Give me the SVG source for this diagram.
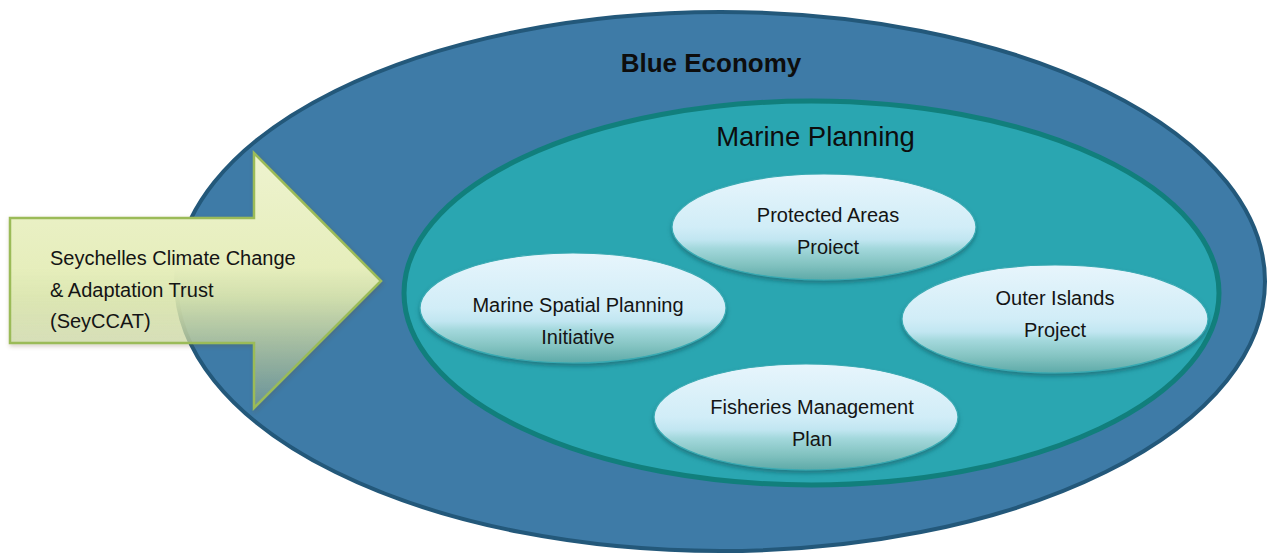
<svg xmlns="http://www.w3.org/2000/svg" width="1269" height="555" viewBox="0 0 1269 555">
  <defs>
    <!-- glossy light-blue fill for the project bubbles -->
    <linearGradient id="bubbleFill" x1="0" y1="0" x2="0" y2="1">
      <stop offset="0" stop-color="#e7f5fc"/>
      <stop offset="0.5" stop-color="#d1edf7"/>
      <stop offset="0.62" stop-color="#c1e6f1"/>
      <stop offset="0.7" stop-color="#a3d8dc"/>
      <stop offset="0.85" stop-color="#83c3c1"/>
      <stop offset="1" stop-color="#5eaaa8"/>
    </linearGradient>
    <!-- arrow fill fades out towards its lower edge -->
    <linearGradient id="arrowFill" gradientUnits="userSpaceOnUse" x1="0" y1="153" x2="0" y2="408">
      <stop offset="0" stop-color="#eef3cf" stop-opacity="1"/>
      <stop offset="0.45" stop-color="#e6eebc" stop-opacity="1"/>
      <stop offset="0.56" stop-color="#dde8b0" stop-opacity="0.92"/>
      <stop offset="0.75" stop-color="#cfdca6" stop-opacity="0.66"/>
      <stop offset="1" stop-color="#bccc96" stop-opacity="0.3"/>
    </linearGradient>
    <filter id="bubbleShadow" x="-10%" y="-20%" width="120%" height="150%">
      <feDropShadow dx="0" dy="3" stdDeviation="2.2" flood-color="#0a5560" flood-opacity="0.55"/>
    </filter>
    <filter id="arrowShadow" x="-5%" y="-5%" width="115%" height="120%">
      <feDropShadow dx="1" dy="2" stdDeviation="2" flood-color="#6b4a26" flood-opacity="0.3"/>
    </filter>
    <style>
      .label { font-family: "Liberation Sans", Arial, sans-serif; font-size: 20px; fill: #141414; }
      .mid { text-anchor: middle; }
      .bubble { fill: url(#bubbleFill); stroke: #39aab3; stroke-width: 1.2; filter: url(#bubbleShadow); }
      .title { font-family: "Liberation Sans", Arial, sans-serif; fill: #0d0d0d; text-anchor: middle; }
    </style>
  </defs>

  <!-- outermost ring -->
  <g id="blue-economy">
    <ellipse cx="720.5" cy="281.5" rx="544.5" ry="269.5" fill="#3e7ba7" stroke="#23587a" stroke-width="4"/>
    <text class="title" x="711" y="72" font-size="26" font-weight="bold">Blue Economy</text>
  </g>

  <!-- incoming arrow -->
  <g id="seyccat">
    <path d="M10,218 L254,218 L254,153 L381,281 L254,408 L254,343 L10,343 Z"
          fill="url(#arrowFill)" stroke="#9bbb59" stroke-width="2.5" stroke-linejoin="miter" filter="url(#arrowShadow)"/>
    <text class="label" x="50" y="265">Seychelles Climate Change</text>
    <text class="label" x="50" y="297">&amp; Adaptation Trust</text>
    <text class="label" x="50" y="328">(SeyCCAT)</text>
  </g>

  <!-- inner ring -->
  <g id="marine-planning">
    <ellipse cx="811.5" cy="293" rx="407.5" ry="192" fill="#2aa6b1" stroke="#117f7c" stroke-width="5"/>
    <text class="title" x="815.5" y="146" font-size="27.5">Marine Planning</text>
  </g>

  <g id="protected-areas">
    <ellipse class="bubble" cx="824" cy="227" rx="152" ry="53"/>
    <text class="label mid" x="828" y="222">Protected Areas</text>
    <text class="label mid" x="828" y="254">Proiect</text>
  </g>

  <g id="marine-spatial-planning">
    <ellipse class="bubble" cx="573" cy="308" rx="153" ry="55"/>
    <text class="label mid" x="578" y="312">Marine Spatial Planning</text>
    <text class="label mid" x="578" y="344">Initiative</text>
  </g>

  <g id="outer-islands">
    <ellipse class="bubble" cx="1055" cy="319" rx="153" ry="54"/>
    <text class="label mid" x="1055" y="305">Outer Islands</text>
    <text class="label mid" x="1055" y="337">Project</text>
  </g>

  <g id="fisheries-management">
    <ellipse class="bubble" cx="806" cy="417" rx="152" ry="53"/>
    <text class="label mid" x="812" y="414">Fisheries Management</text>
    <text class="label mid" x="812" y="446">Plan</text>
  </g>
</svg>
